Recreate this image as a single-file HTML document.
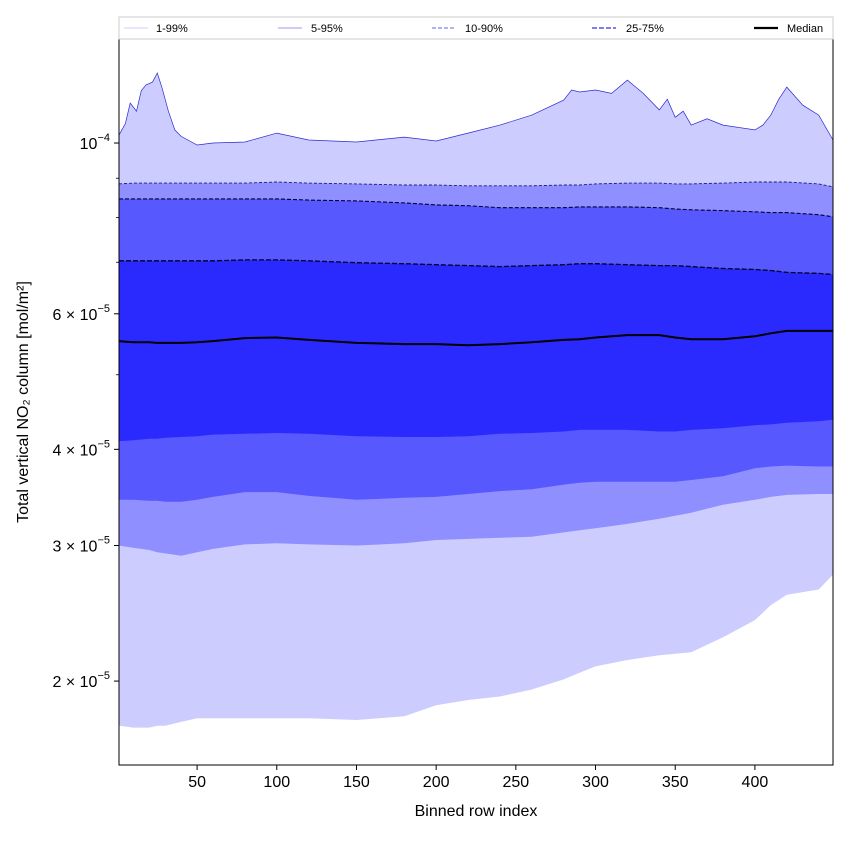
<!DOCTYPE html>
<html><head><meta charset="utf-8"><style>
body{margin:0;background:#fff;}
svg{font-family:"Liberation Sans","DejaVu Sans",sans-serif;}
</style></head><body>
<svg id="chart" width="850" height="850" viewBox="0 0 850 850" xmlns="http://www.w3.org/2000/svg">
<rect width="850" height="850" fill="#fff"/>
<g id="bands"></g>
<g id="lines"></g>
<rect x="119" y="39" width="714" height="726" fill="none" stroke="#000" stroke-width="1"/>
<g id="axes"></g>
<text x="476" y="816" font-size="16" text-anchor="middle">Binned row index</text>
<text transform="translate(28,402) rotate(-90)" font-size="16" text-anchor="middle">Total vertical NO₂ column [mol/m²]</text>
<g>
<rect x="119" y="17" width="714" height="22" fill="#fff" stroke="#ccc" stroke-width="1"/>
<line x1="124" y1="28" x2="148" y2="28" stroke="#ccccff" stroke-width="1"/>
<text x="156" y="32" font-size="11">1-99%</text>
<line x1="278" y1="28" x2="302" y2="28" stroke="#9999ee" stroke-width="1"/>
<text x="311" y="32" font-size="11">5-95%</text>
<line x1="432" y1="28" x2="456" y2="28" stroke="#8080ee" stroke-width="1.2" stroke-dasharray="4,2"/>
<text x="465" y="32" font-size="11">10-90%</text>
<line x1="592" y1="28" x2="616" y2="28" stroke="#5555ee" stroke-width="1.6" stroke-dasharray="5,2"/>
<text x="626" y="32" font-size="11">25-75%</text>
<line x1="754" y1="28" x2="778" y2="28" stroke="#000" stroke-width="2.2"/>
<text x="787" y="32" font-size="11">Median</text>
</g>
</svg>
<script>
const rows = [1,10,20,25,30,40,50,60,80,100,120,150,180,200,220,240,260,280,290,300,320,340,350,360,380,400,410,420,440,449];
const p1  = [1.75,1.74,1.74,1.75,1.75,1.77,1.79,1.79,1.79,1.79,1.79,1.78,1.80,1.86,1.89,1.91,1.95,2.01,2.05,2.09,2.13,2.16,2.17,2.18,2.28,2.40,2.51,2.59,2.63,2.75];
const p5  = [3.00,2.98,2.96,2.94,2.93,2.91,2.94,2.97,3.01,3.02,3.01,3.00,3.02,3.05,3.06,3.07,3.08,3.12,3.14,3.16,3.20,3.25,3.28,3.31,3.39,3.44,3.47,3.49,3.50,3.50];
const p10 = [3.44,3.44,3.43,3.43,3.42,3.42,3.44,3.47,3.52,3.52,3.48,3.44,3.46,3.47,3.50,3.53,3.55,3.60,3.62,3.63,3.63,3.63,3.63,3.65,3.69,3.78,3.80,3.81,3.80,3.80];
const p25 = [4.10,4.11,4.13,4.13,4.14,4.15,4.16,4.18,4.19,4.20,4.19,4.16,4.15,4.15,4.16,4.19,4.20,4.22,4.24,4.24,4.24,4.22,4.22,4.24,4.26,4.30,4.31,4.33,4.35,4.37];
const p50 = [5.53,5.51,5.51,5.50,5.50,5.50,5.51,5.53,5.58,5.59,5.55,5.50,5.48,5.48,5.46,5.48,5.51,5.55,5.56,5.59,5.63,5.63,5.59,5.56,5.56,5.61,5.66,5.70,5.70,5.70];
const p75 = [7.03,7.03,7.03,7.03,7.03,7.03,7.03,7.03,7.05,7.05,7.03,6.99,6.97,6.95,6.93,6.91,6.93,6.95,6.97,6.97,6.95,6.93,6.93,6.91,6.87,6.85,6.83,6.79,6.77,6.75];
const p90 = [8.46,8.46,8.46,8.46,8.46,8.46,8.46,8.46,8.46,8.46,8.43,8.41,8.36,8.31,8.29,8.24,8.24,8.24,8.26,8.26,8.26,8.24,8.21,8.19,8.17,8.14,8.12,8.12,8.07,8.02];
const p95 = [8.85,8.87,8.87,8.87,8.87,8.87,8.87,8.87,8.87,8.90,8.87,8.85,8.82,8.82,8.80,8.80,8.80,8.82,8.82,8.85,8.87,8.87,8.85,8.85,8.87,8.90,8.90,8.90,8.85,8.77];
const rows99 = [1,5,8,12,15,18,22,25,28,32,36,40,50,60,80,100,120,150,180,200,220,240,260,280,285,290,300,310,320,330,340,345,350,355,360,370,380,400,405,410,415,420,430,440,449];
const p99 = [10.24,10.60,11.27,11.00,11.70,11.90,12.00,12.33,11.80,11.00,10.40,10.20,9.94,10.00,10.03,10.30,10.09,10.03,10.18,10.06,10.30,10.55,10.87,11.37,11.72,11.65,11.72,11.60,12.07,11.60,11.04,11.40,10.80,11.00,10.55,10.75,10.55,10.40,10.55,10.87,11.40,11.82,11.20,10.87,10.09];
const unitScale = 1e-5;
const xTicks = [50,100,150,200,250,300,350,400];
const yMajorTicks = [2e-5,3e-5,4e-5,6e-5,1e-4];
const yMajorMant = ["2","3","4","6",""];
const yMinorTicks = [5e-5,7e-5,8e-5,9e-5];

const NS="http://www.w3.org/2000/svg";
const X0=119,X1=833,Y0=39,Y1=765;
const xmin=1,xmax=449;
const lmax=Math.log10(1.365e-4), lmin=Math.log10(1.556e-5);
function xs(v){return X0+(v-xmin)/(xmax-xmin)*(X1-X0);}
function ys(v){return Y0+(lmax-Math.log10(v*unitScale))/(lmax-lmin)*(Y1-Y0);}
function ysAbs(v){return Y0+(lmax-Math.log10(v))/(lmax-lmin)*(Y1-Y0);}
function mk(tag,attrs,parent){const e=document.createElementNS(NS,tag);for(const k in attrs)e.setAttribute(k,attrs[k]);parent.appendChild(e);return e;}
function linePts(arr,xr){xr=xr||rows;return xr.map((r,i)=>xs(r).toFixed(1)+","+ys(arr[i]).toFixed(1));}
const bands=document.getElementById('bands');
const bandDefs=[[p1,p99,'#ccccff','band-1-99',rows99],[p5,p95,'#8f8fff','band-5-95',rows],[p10,p90,'#5858ff','band-10-90',rows],[p25,p75,'#2a2aff','band-25-75',rows]];
bandDefs.forEach(b=>{
  const pts=linePts(b[1],b[4]).concat(linePts(b[0]).reverse());
  const p=mk('polygon',{points:pts.join(' '),fill:b[2]},bands);
  
  
});
const lines=document.getElementById('lines');
const lineDefs=[[p99,'#2a2ad0',0.7,'','line-p99',rows99],[p95,'#1a1a80',0.9,'3,2','line-p95',rows],[p90,'#000030',1.1,'4,2','line-p90',rows],[p75,'#000020',1.3,'5,2','line-p75',rows],[p50,'#000',2,'','line-median',rows]];
lineDefs.forEach(l=>{
  const a={points:linePts(l[0],l[5]).join(' '),fill:'none',stroke:l[1],'stroke-width':l[2]};
  if(l[3])a['stroke-dasharray']=l[3];
  const p=mk('polyline',a,lines);
  
  
});
const axes=document.getElementById('axes');
xTicks.forEach(t=>{
  const x=xs(t);
  const ln=mk('line',{x1:x,y1:Y1,x2:x,y2:Y1+5,stroke:'#000'},axes);
  
  
  const tx=mk('text',{x:x,y:Y1+22,'font-size':16,'text-anchor':'middle'},axes);
  tx.textContent=t;
  
  
});
yMajorTicks.forEach((t,i)=>{
  const y=ysAbs(t);
  const ln=mk('line',{x1:X0-5,y1:y,x2:X0,y2:y,stroke:'#000'},axes);
  
  
  const tx=mk('text',{x:X0-9,y:y+6,'font-size':16,'text-anchor':'end'},axes);
  const m=yMajorMant[i];
  const e=(t>=1e-4)?'−4':'−5';
  tx.innerHTML=(m?m+' × ':'')+'10<tspan dy="-8" font-size="11">'+e+'</tspan>';
  
  
});
yMinorTicks.forEach((t,i)=>{
  const y=ysAbs(t);
  const ln=mk('line',{x1:X0-3,y1:y,x2:X0,y2:y,stroke:'#000','stroke-width':0.8},axes);
  
  
});
</script>
</body></html>
